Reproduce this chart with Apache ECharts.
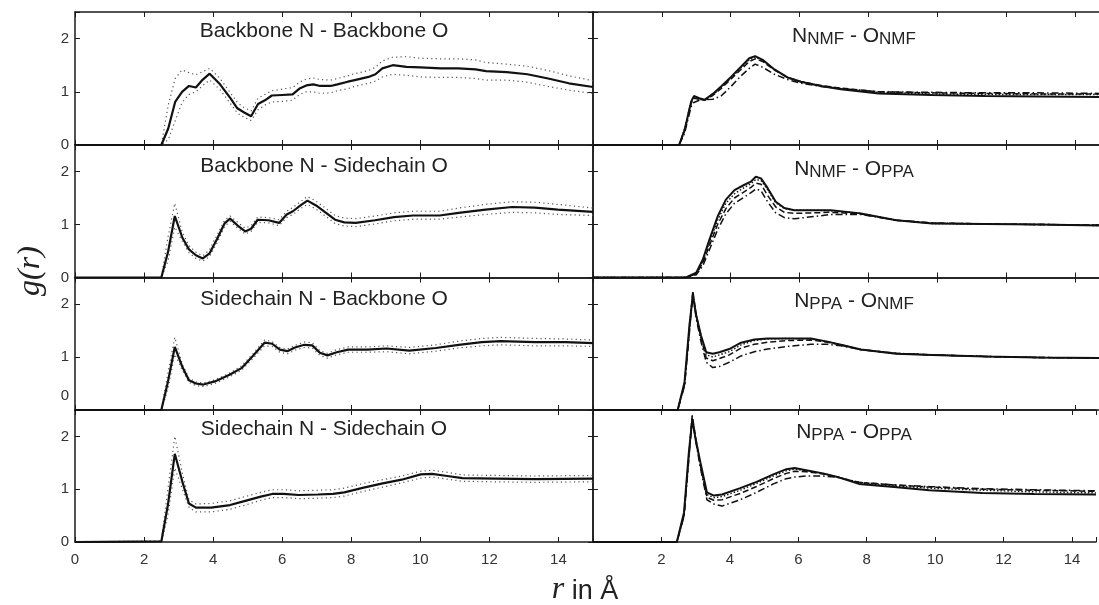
<!DOCTYPE html>
<html><head><meta charset="utf-8">
<script src="https://cdn.jsdelivr.net/npm/echarts@6/dist/echarts.min.js"></script>
<style>html,body{margin:0;padding:0;background:#fff}#c{width:1099px;height:605px}</style>
</head><body><div id="c"></div>
<script>
// ---------- tick labels / titles ----------
const xTicksLeft = [0, 2, 4, 6, 8, 10, 12, 14];
const xTicksRight = [2, 4, 6, 8, 10, 12, 14];
const yTickLabels = [0, 1, 2];
const leftTitles = ['Backbone N - Backbone O', 'Backbone N - Sidechain O', 'Sidechain N - Backbone O', 'Sidechain N - Sidechain O'];
const rightTitles = [['NMF', 'NMF'], ['NMF', 'PPA'], ['PPA', 'NMF'], ['PPA', 'PPA']];

// ---------- left column: mean g(r) with upper / lower (dotted) ----------
const bbN_bbO_r  = [0, 2.5, 2.7, 2.9, 3.1, 3.3, 3.5, 3.7, 3.9, 4.2, 4.5, 4.7, 4.9, 5.1, 5.3, 5.5, 5.7, 6.0, 6.3, 6.5, 6.7, 6.9, 7.1, 7.4, 7.6, 7.9, 8.1, 8.5, 8.7, 8.9, 9.2, 9.6, 10.0, 10.6, 11.1, 11.6, 11.9, 12.5, 13.1, 13.7, 14.3, 15.0];
const bbN_bbO_g  = [0, 0, 0.31, 0.81, 1.0, 1.11, 1.08, 1.23, 1.34, 1.14, 0.88, 0.69, 0.61, 0.54, 0.77, 0.84, 0.93, 0.94, 0.95, 1.06, 1.12, 1.14, 1.11, 1.11, 1.14, 1.19, 1.22, 1.28, 1.33, 1.44, 1.50, 1.47, 1.46, 1.44, 1.44, 1.42, 1.39, 1.37, 1.33, 1.25, 1.16, 1.09];
const bbN_bbO_hi = [0, 0, 0.75, 1.25, 1.41, 1.36, 1.32, 1.38, 1.44, 1.25, 0.98, 0.80, 0.70, 0.64, 0.88, 0.95, 1.02, 1.05, 1.08, 1.18, 1.24, 1.26, 1.23, 1.22, 1.25, 1.30, 1.34, 1.40, 1.46, 1.58, 1.65, 1.66, 1.63, 1.62, 1.62, 1.60, 1.55, 1.52, 1.48, 1.40, 1.30, 1.21];
const bbN_bbO_lo = [0, 0, 0.10, 0.45, 0.80, 0.95, 1.00, 1.12, 1.22, 1.04, 0.78, 0.60, 0.52, 0.46, 0.66, 0.75, 0.81, 0.82, 0.84, 0.95, 1.00, 1.00, 0.97, 0.98, 1.02, 1.06, 1.10, 1.16, 1.20, 1.28, 1.33, 1.31, 1.28, 1.27, 1.27, 1.25, 1.22, 1.22, 1.18, 1.10, 1.03, 0.97];

const bbN_scO_r  = [0, 2.5, 2.69, 2.89, 3.11, 3.30, 3.50, 3.70, 3.89, 4.11, 4.33, 4.49, 4.71, 4.93, 5.10, 5.29, 5.60, 5.91, 6.13, 6.31, 6.53, 6.73, 6.98, 7.25, 7.53, 7.80, 8.13, 8.69, 9.24, 9.79, 10.56, 11.11, 11.89, 12.66, 13.32, 13.98, 15.0];
const bbN_scO_g  = [0, 0, 0.47, 1.16, 0.75, 0.53, 0.42, 0.36, 0.45, 0.72, 1.02, 1.11, 0.98, 0.87, 0.92, 1.09, 1.08, 1.03, 1.19, 1.25, 1.36, 1.45, 1.36, 1.23, 1.09, 1.04, 1.03, 1.08, 1.14, 1.17, 1.17, 1.22, 1.28, 1.33, 1.32, 1.28, 1.24];
const bbN_scO_hi = [0, 0, 0.75, 1.40, 0.85, 0.60, 0.48, 0.41, 0.52, 0.80, 1.08, 1.16, 1.04, 0.93, 0.98, 1.14, 1.13, 1.09, 1.25, 1.32, 1.43, 1.53, 1.44, 1.31, 1.17, 1.12, 1.11, 1.16, 1.22, 1.25, 1.25, 1.31, 1.38, 1.43, 1.42, 1.38, 1.31];
const bbN_scO_lo = [0, 0, 0.30, 0.95, 0.68, 0.47, 0.36, 0.31, 0.39, 0.65, 0.96, 1.06, 0.93, 0.82, 0.87, 1.04, 1.03, 0.98, 1.13, 1.19, 1.30, 1.38, 1.29, 1.16, 1.02, 0.97, 0.96, 1.01, 1.07, 1.10, 1.10, 1.14, 1.19, 1.23, 1.22, 1.19, 1.17];

const scN_bbO_r  = [0, 2.5, 2.69, 2.89, 3.11, 3.30, 3.50, 3.72, 4.05, 4.49, 4.82, 5.15, 5.49, 5.71, 5.93, 6.15, 6.37, 6.64, 6.87, 7.09, 7.31, 7.58, 7.91, 8.47, 9.02, 9.68, 10.45, 11.11, 11.78, 12.33, 13.32, 14.2, 15.0];
const scN_bbO_g  = [0, 0, 0.53, 1.19, 0.81, 0.56, 0.50, 0.48, 0.54, 0.67, 0.79, 1.02, 1.27, 1.25, 1.14, 1.11, 1.18, 1.23, 1.22, 1.08, 1.03, 1.09, 1.14, 1.14, 1.16, 1.12, 1.17, 1.23, 1.28, 1.30, 1.28, 1.28, 1.26];
const scN_bbO_hi = [0, 0, 0.70, 1.37, 0.86, 0.60, 0.53, 0.51, 0.57, 0.70, 0.83, 1.06, 1.32, 1.29, 1.18, 1.15, 1.22, 1.28, 1.27, 1.12, 1.07, 1.14, 1.19, 1.19, 1.21, 1.18, 1.23, 1.30, 1.35, 1.37, 1.35, 1.34, 1.32];
const scN_bbO_lo = [0, 0, 0.40, 1.05, 0.75, 0.52, 0.46, 0.44, 0.50, 0.63, 0.75, 0.97, 1.21, 1.20, 1.09, 1.06, 1.13, 1.18, 1.17, 1.03, 0.98, 1.04, 1.09, 1.09, 1.10, 1.06, 1.11, 1.17, 1.21, 1.23, 1.21, 1.21, 1.20];

const scN_scO_r  = [0, 2.5, 2.69, 2.89, 3.11, 3.30, 3.50, 3.94, 4.49, 4.93, 5.38, 5.71, 6.04, 6.48, 7.03, 7.47, 7.80, 8.36, 8.91, 9.46, 10.01, 10.34, 10.78, 11.22, 12.2, 13.32, 15.0];
const scN_scO_g  = [0, 0.01, 0.70, 1.67, 1.14, 0.73, 0.65, 0.65, 0.70, 0.78, 0.86, 0.91, 0.91, 0.89, 0.90, 0.91, 0.94, 1.03, 1.11, 1.18, 1.28, 1.29, 1.25, 1.21, 1.20, 1.19, 1.20];
const scN_scO_hi = [0, 0.02, 1.00, 2.00, 1.30, 0.80, 0.72, 0.73, 0.78, 0.86, 0.94, 0.99, 0.99, 0.97, 0.98, 0.99, 1.02, 1.11, 1.18, 1.25, 1.34, 1.36, 1.32, 1.27, 1.26, 1.25, 1.26];
const scN_scO_lo = [0, 0, 0.50, 1.40, 1.00, 0.66, 0.57, 0.57, 0.62, 0.70, 0.79, 0.84, 0.84, 0.82, 0.83, 0.84, 0.87, 0.96, 1.04, 1.12, 1.21, 1.23, 1.19, 1.15, 1.14, 1.13, 1.14];

// ---------- right column: four runs (solid, dotted, dashed, dash-dot) ----------
const nmf_nmf_r  = [0, 2.5, 2.66, 2.85, 2.93, 3.09, 3.24, 3.48, 3.72, 4.01, 4.30, 4.54, 4.71, 4.93, 5.27, 5.65, 6.04, 6.62, 7.20, 8.30, 9.84, 11.39, 12.94, 14.7];
const nmf_nmf_a  = [0, 0, 0.28, 0.81, 0.92, 0.88, 0.85, 0.96, 1.10, 1.28, 1.47, 1.63, 1.67, 1.60, 1.42, 1.27, 1.19, 1.11, 1.05, 0.97, 0.94, 0.92, 0.91, 0.90];
const nmf_nmf_b  = [0, 0, 0.30, 0.83, 0.90, 0.86, 0.84, 0.94, 1.08, 1.26, 1.45, 1.60, 1.65, 1.59, 1.42, 1.27, 1.19, 1.11, 1.06, 0.99, 0.96, 0.95, 0.95, 0.95];
const nmf_nmf_c  = [0, 0, 0.26, 0.78, 0.88, 0.86, 0.84, 0.93, 1.06, 1.24, 1.42, 1.57, 1.62, 1.57, 1.41, 1.27, 1.19, 1.12, 1.07, 1.00, 0.98, 0.97, 0.96, 0.96];
const nmf_nmf_d  = [0, 0, 0.22, 0.72, 0.80, 0.84, 0.85, 0.86, 0.92, 1.10, 1.30, 1.44, 1.52, 1.46, 1.33, 1.23, 1.16, 1.10, 1.06, 1.00, 0.99, 0.98, 0.98, 0.97];

const nmf_ppa_r  = [0, 2.7, 3.0, 3.19, 3.38, 3.62, 3.86, 4.11, 4.40, 4.59, 4.73, 4.88, 5.07, 5.31, 5.56, 5.85, 6.43, 6.91, 7.78, 8.81, 9.85, 11.4, 12.94, 14.7];
const nmf_ppa_a  = [0, 0, 0.09, 0.34, 0.71, 1.15, 1.47, 1.65, 1.75, 1.81, 1.90, 1.87, 1.69, 1.43, 1.31, 1.27, 1.27, 1.27, 1.21, 1.08, 1.02, 1.01, 1.00, 0.98];
const nmf_ppa_b  = [0, 0, 0.08, 0.30, 0.66, 1.08, 1.40, 1.58, 1.70, 1.77, 1.85, 1.83, 1.66, 1.41, 1.30, 1.27, 1.27, 1.26, 1.21, 1.08, 1.02, 1.01, 1.00, 0.98];
const nmf_ppa_c  = [0, 0, 0.07, 0.27, 0.60, 1.00, 1.30, 1.50, 1.62, 1.70, 1.78, 1.76, 1.55, 1.33, 1.23, 1.21, 1.22, 1.23, 1.20, 1.08, 1.03, 1.01, 1.00, 0.99];
const nmf_ppa_d  = [0, 0, 0.05, 0.22, 0.52, 0.90, 1.20, 1.40, 1.52, 1.60, 1.67, 1.64, 1.43, 1.22, 1.13, 1.11, 1.15, 1.19, 1.19, 1.08, 1.03, 1.01, 1.00, 0.99];

const ppa_nmf_r  = [0, 2.46, 2.66, 2.8, 2.9, 3.0, 3.14, 3.29, 3.48, 3.67, 3.96, 4.3, 4.69, 5.07, 5.65, 6.33, 6.81, 7.2, 7.78, 8.81, 9.85, 11.4, 12.94, 14.7];
const ppa_nmf_a  = [0, 0, 0.53, 1.59, 2.16, 1.78, 1.40, 1.09, 1.06, 1.09, 1.15, 1.27, 1.33, 1.35, 1.35, 1.35, 1.29, 1.23, 1.14, 1.06, 1.04, 1.01, 0.99, 0.98];
const ppa_nmf_b  = [0, 0, 0.50, 1.55, 2.22, 1.80, 1.38, 1.04, 1.00, 1.04, 1.10, 1.23, 1.31, 1.34, 1.35, 1.34, 1.29, 1.23, 1.14, 1.06, 1.04, 1.01, 0.99, 0.98];
const ppa_nmf_c  = [0, 0, 0.48, 1.50, 2.25, 1.78, 1.35, 0.98, 0.93, 0.97, 1.04, 1.17, 1.24, 1.28, 1.31, 1.32, 1.28, 1.23, 1.14, 1.07, 1.04, 1.01, 0.99, 0.98];
const ppa_nmf_d  = [0, 0, 0.45, 1.45, 2.18, 1.72, 1.28, 0.90, 0.80, 0.82, 0.90, 1.02, 1.10, 1.15, 1.20, 1.24, 1.24, 1.21, 1.14, 1.07, 1.04, 1.01, 0.99, 0.98];

const ppa_ppa_r  = [0, 2.45, 2.66, 2.8, 2.9, 3.0, 3.14, 3.33, 3.53, 3.77, 4.3, 4.78, 5.27, 5.65, 5.89, 6.23, 6.72, 7.2, 7.77, 8.8, 9.83, 11.38, 12.9, 14.7];
const ppa_ppa_a  = [0, 0, 0.56, 1.69, 2.32, 1.94, 1.50, 0.94, 0.88, 0.90, 1.02, 1.14, 1.28, 1.38, 1.40, 1.36, 1.30, 1.22, 1.10, 1.04, 0.98, 0.93, 0.91, 0.90];
const ppa_ppa_b  = [0, 0, 0.52, 1.65, 2.38, 1.96, 1.48, 0.90, 0.84, 0.86, 0.98, 1.11, 1.25, 1.35, 1.38, 1.35, 1.30, 1.22, 1.12, 1.06, 1.02, 0.98, 0.95, 0.93];
const ppa_ppa_c  = [0, 0, 0.50, 1.60, 2.40, 1.98, 1.45, 0.85, 0.79, 0.80, 0.92, 1.05, 1.20, 1.30, 1.34, 1.33, 1.29, 1.22, 1.13, 1.08, 1.04, 1.00, 0.98, 0.96];
const ppa_ppa_d  = [0, 0, 0.48, 1.55, 2.35, 1.92, 1.40, 0.80, 0.72, 0.68, 0.80, 0.94, 1.10, 1.20, 1.23, 1.25, 1.25, 1.22, 1.13, 1.08, 1.05, 1.01, 0.99, 0.97];

// ---------- layout ----------
const rowTop = [12, 145, 277.5, 410];
const rowH = [133, 132.5, 132.5, 132];
const colLeft = [75, 593];
const colWidth = [518, 506];
const colXMax = [15, 14.7];
const FONT = '"Liberation Sans", Arial, sans-serif';
const AX = '#1a1a1a';
const LBL = '#333';

const leftPanels = [
  [bbN_bbO_r, bbN_bbO_g, bbN_bbO_hi, bbN_bbO_lo],
  [bbN_scO_r, bbN_scO_g, bbN_scO_hi, bbN_scO_lo],
  [scN_bbO_r, scN_bbO_g, scN_bbO_hi, scN_bbO_lo],
  [scN_scO_r, scN_scO_g, scN_scO_hi, scN_scO_lo]
];
const rightPanels = [
  [nmf_nmf_r, nmf_nmf_a, nmf_nmf_b, nmf_nmf_c, nmf_nmf_d],
  [nmf_ppa_r, nmf_ppa_a, nmf_ppa_b, nmf_ppa_c, nmf_ppa_d],
  [ppa_nmf_r, ppa_nmf_a, ppa_nmf_b, ppa_nmf_c, ppa_nmf_d],
  [ppa_ppa_r, ppa_ppa_a, ppa_ppa_b, ppa_ppa_c, ppa_ppa_d]
];

const grid = [], xAxis = [], yAxis = [], series = [];
for (let row = 0; row < 4; row++) {
  for (let col = 0; col < 2; col++) {
    const gi = row * 2 + col;
    grid.push({ left: colLeft[col], top: rowTop[row], width: colWidth[col], height: rowH[row], containLabel: false });
    const ticks = col === 0 ? xTicksLeft : xTicksRight;
    const lineSt = { color: AX, width: 1.5 };
    xAxis.push({
      gridIndex: gi, type: 'value', min: 0, max: colXMax[col], interval: 2, position: 'bottom',
      axisLine: { show: true, onZero: false, lineStyle: lineSt },
      axisTick: { show: true, inside: true, length: 5, lineStyle: { color: AX, width: 1 } },
      axisLabel: { show: row === 3, margin: 10, color: LBL, fontSize: 15, fontFamily: FONT,
        formatter: v => ticks.indexOf(v) >= 0 ? String(v) : '' },
      splitLine: { show: false }
    });
    xAxis.push({
      gridIndex: gi, type: 'value', min: 0, max: colXMax[col], interval: 2, position: 'top',
      axisLine: { show: true, onZero: false, lineStyle: lineSt },
      axisTick: { show: true, inside: true, length: 5, lineStyle: { color: AX, width: 1 } },
      axisLabel: { show: false }, splitLine: { show: false }
    });
    const yLeft = {
      gridIndex: gi, type: 'value', min: 0, max: 2.5, interval: 1, position: 'left',
      axisLine: { show: true, onZero: false, lineStyle: lineSt },
      axisTick: { show: true, inside: true, length: 5, lineStyle: { color: AX, width: 1 } },
      axisLabel: { show: col === 0, margin: 6, color: LBL, fontSize: 15, fontFamily: FONT,
        formatter: v => yTickLabels.indexOf(v) >= 0 ? String(v) : '' },
      splitLine: { show: false }
    };
    if (col === 0 && row === 2) {
      yLeft.axisLabel.formatter = v => v === 0 ? '{up|0}' : (yTickLabels.indexOf(v) >= 0 ? String(v) : '');
      yLeft.axisLabel.rich = { up: { padding: [0, 0, 28, 0], fontSize: 15, color: LBL, fontFamily: FONT } };
    }
    yAxis.push(yLeft);
    yAxis.push({
      gridIndex: gi, type: 'value', min: 0, max: 2.5, interval: 1, position: 'right',
      axisLine: { show: col === 0, onZero: false, lineStyle: lineSt },
      axisTick: { show: col === 0, inside: true, length: 5, lineStyle: { color: AX, width: 1 } },
      axisLabel: { show: false }, splitLine: { show: false }
    });
    const mk = (xs, ys, ls, z) => ({
      type: 'line', xAxisIndex: 2 * gi, yAxisIndex: 2 * gi, symbol: 'none', showSymbol: false,
      silent: true, animation: false, z: z, lineStyle: ls,
      data: xs.map((x, i) => [x, ys[i]])
    });
    if (col === 0) {
      const [r, g, hi, lo] = leftPanels[row];
      series.push(mk(r, hi, { color: '#555', width: 1.2, type: [1.2, 3.2] }, 2));
      series.push(mk(r, lo, { color: '#555', width: 1.2, type: [1.2, 3.2] }, 2));
      series.push(mk(r, g, { color: '#111', width: 2.2, type: 'solid' }, 3));
    } else {
      const [r, a, b, c, d] = rightPanels[row];
      series.push(mk(r, d, { color: '#111', width: 1.5, type: [7, 3, 1.5, 3] }, 2));
      series.push(mk(r, c, { color: '#111', width: 1.5, type: [6, 3] }, 2));
      series.push(mk(r, b, { color: '#111', width: 1.4, type: [1.5, 2] }, 2));
      series.push(mk(r, a, { color: '#111', width: 2, type: 'solid' }, 3));
    }
  }
}

// ---------- texts ----------
const leftTitleY = [31, 166, 299, 429];
const rightTitleY = [37, 170, 302, 433];
const graphic = [];
for (let row = 0; row < 4; row++) {
  graphic.push({ type: 'text', x: 324, y: leftTitleY[row], silent: true,
    style: { text: leftTitles[row], font: '21px ' + FONT, fill: '#222', align: 'center', verticalAlign: 'middle' } });
  const [s1, s2] = rightTitles[row];
  graphic.push({ type: 'text', x: 854, y: rightTitleY[row], silent: true,
    style: { text: '{m|N}{s|' + s1 + '}{m| - O}{s|' + s2 + '}', align: 'center', verticalAlign: 'middle', fill: '#222',
      rich: {
        m: { font: '21px ' + FONT, fill: '#222', verticalAlign: 'bottom', padding: [0, 0, 1, 0] },
        s: { font: '17px ' + FONT, fill: '#222', verticalAlign: 'bottom' }
      } } });
}
graphic.push({ type: 'text', x: 31, y: 271, rotation: Math.PI / 2, silent: true,
  style: { text: 'g(r)', font: 'italic 32px "Liberation Serif", serif', fill: '#222', align: 'center', verticalAlign: 'middle' } });
graphic.push({ type: 'text', x: 585, y: 590, silent: true,
  style: { text: '{i|r}{t| in Å}', align: 'center', verticalAlign: 'middle', fill: '#222',
    rich: {
      i: { font: 'italic 32px "Liberation Serif", serif', fill: '#222', verticalAlign: 'bottom' },
      t: { font: '27px ' + FONT, fill: '#222', verticalAlign: 'bottom', padding: [0, 0, 1, 0] }
    } } });

const chart = echarts.init(document.getElementById('c'), null, { renderer: 'canvas' });
chart.setOption({ animation: false, backgroundColor: '#fff', grid, xAxis, yAxis, series, graphic });
</script>
</body></html>
